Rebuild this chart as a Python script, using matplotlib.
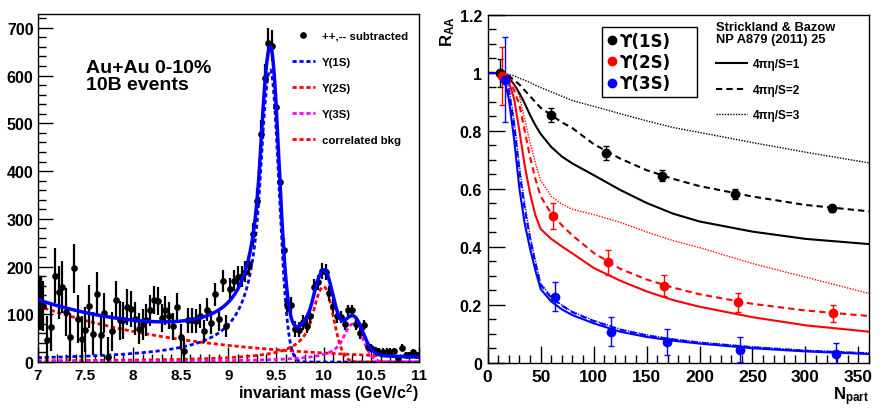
import numpy as np
import matplotlib
matplotlib.use("Agg")
import matplotlib.pyplot as plt
from matplotlib.ticker import MultipleLocator, FuncFormatter
from matplotlib.lines import Line2D
from matplotlib.patches import Rectangle

plt.rcParams['font.family'] = ['Liberation Sans', 'DejaVu Sans']
plt.rcParams['font.weight'] = 'bold'
plt.rcParams['mathtext.fontset'] = 'custom'
plt.rcParams['mathtext.rm'] = 'Liberation Sans:bold'
plt.rcParams['mathtext.it'] = 'Liberation Sans:bold'
plt.rcParams['mathtext.bf'] = 'Liberation Sans:bold'
plt.rcParams['mathtext.default'] = 'rm'

# ---------------- painel esquerdo: espectro de massa invariante ----------------
bin_lo, bin_hi, n_bins = 7.0, 11.0, 100
contagens = [
    125, 117, 46, 74, 181, 146, 157, 104, 53, 196,
    90, 48, 68, 117, 59, 143, 57, 102, 10, 64,
    130, 87, 87, 115, 111, 91, 70, 79, 88, 108,
    130, 128, 92, 108, 97, 75, 116, 53, 24, 87,
    87, 86, 96, 64, 110, 82, 142, 90, 169, 75,
    153, 170, 179, 180, 189, 205, 268, 338, 478, 595,
    668, 663, 534, 377, 235, 122, 119, 69, 68, 83,
    76, 96, 157, 167, 191, 188, 144, 117, 96, 94,
    80, 108, 108, 80, 60, 78, 31, 29, 25, 22,
    22, 22, 22, 23, 8, 30, 15, 15, 22, 14,
]
erros = [
    55, 52, 50, 50, 58, 55, 55, 50, 50, 52, 50, 48, 48,
    45, 45, 45, 43, 42, 42, 40, 40, 40, 38, 38, 38,
    35, 33, 33, 33, 32, 30, 30, 30, 30, 28, 28, 28, 27,
    27, 26, 26, 26, 25, 25, 25, 24, 24, 24, 23, 23,
    22, 22, 22, 22, 22, 23, 24,
    26, 28, 30, 32, 32, 30, 28, 24,
    18, 17, 16, 15, 15, 15, 15, 16,
    16, 17, 17, 16, 15, 14, 13, 12, 12, 12, 12, 11, 11,
    8, 8, 7, 7, 7, 7, 7, 7, 6, 7, 6, 6, 6, 6,
]

# parametros do ajuste: N, media, sigma esq, sigma dir, alpha, n
par_1s = [612, 9.44, 0.11, 0.09, 1.0, 1.3]
par_2s = [158, 10.00, 0.12, 0.10, 1.0, 1.2]
par_3s = [80, 10.31, 0.11, 0.10, 1.0, 1.2]
par_bkg = [118, 0.61]   # amplitude em 7 GeV, inclinacao

# ---------------- painel direito: R_AA x Npart ----------------
npart_1s = [11.6, 59.5, 111.7, 164.9, 233.8, 324.8]
raa_1s = [1.0, 0.855, 0.724, 0.646, 0.583, 0.534]
err_1s = [0.048, 0.024, 0.024, 0.020, 0.017, 0.012]
npart_2s = [13.2, 61.4, 113.9, 166.8, 236.0, 326.4]
raa_2s = [0.988, 0.508, 0.347, 0.267, 0.209, 0.171]
err_2s = [0.100, 0.045, 0.044, 0.037, 0.033, 0.028]
npart_3s = [16.3, 63.5, 116.1, 169.0, 238.2, 328.6]
raa_3s = [0.977, 0.229, 0.108, 0.071, 0.046, 0.031]
err_3s = [0.147, 0.051, 0.050, 0.045, 0.042, 0.038]

# curvas teoricas (Strickland & Bazow)
npart_teo = [0, 10, 15, 20, 25, 30, 35, 40, 45, 50, 60, 70, 80, 100, 125, 150, 175, 200, 250, 300, 360]
teo_1s_eta1 = [1, 1, 1.0, 0.985, 0.96, 0.93, 0.895, 0.855, 0.82, 0.79, 0.745, 0.712, 0.688, 0.648, 0.597, 0.552, 0.515, 0.488, 0.453, 0.428, 0.41]
teo_1s_eta2 = [1, 1, 1.0, 0.99, 0.975, 0.96, 0.94, 0.92, 0.90, 0.88, 0.855, 0.83, 0.81, 0.755, 0.705, 0.665, 0.635, 0.61, 0.574, 0.545, 0.523]
teo_1s_eta3 = [1, 1, 1.0, 0.995, 0.99, 0.982, 0.975, 0.967, 0.958, 0.95, 0.935, 0.92, 0.905, 0.885, 0.86, 0.835, 0.812, 0.795, 0.76, 0.727, 0.69]
teo_2s_eta1 = [1, 1, 0.995, 0.97, 0.91, 0.80, 0.68, 0.585, 0.51, 0.462, 0.428, 0.402, 0.378, 0.328, 0.284, 0.247, 0.217, 0.194, 0.158, 0.13, 0.108]
teo_2s_eta2 = [1, 1, 0.995, 0.975, 0.94, 0.89, 0.80, 0.71, 0.635, 0.575, 0.515, 0.475, 0.44, 0.38, 0.325, 0.288, 0.26, 0.237, 0.204, 0.181, 0.162]
teo_2s_eta3 = [1, 1, 1.0, 0.985, 0.96, 0.92, 0.84, 0.76, 0.69, 0.63, 0.575, 0.548, 0.53, 0.512, 0.485, 0.452, 0.422, 0.398, 0.343, 0.296, 0.24]
teo_3s_eta1 = [1, 1, 0.99, 0.91, 0.77, 0.60, 0.48, 0.395, 0.32, 0.255, 0.212, 0.185, 0.165, 0.137, 0.108, 0.09, 0.077, 0.067, 0.051, 0.04, 0.031]
teo_3s_eta2 = [1, 1, 0.995, 0.94, 0.82, 0.66, 0.53, 0.43, 0.345, 0.27, 0.225, 0.198, 0.175, 0.145, 0.115, 0.095, 0.081, 0.07, 0.054, 0.042, 0.033]
teo_3s_eta3 = [1, 1, 0.995, 0.95, 0.84, 0.68, 0.55, 0.44, 0.355, 0.275, 0.228, 0.20, 0.177, 0.147, 0.117, 0.097, 0.083, 0.072, 0.056, 0.044, 0.035]


def crystal_ball(x, N, mu, sl, sr, alpha, n):
    t = np.where(x < mu, (x - mu) / sl, (x - mu) / sr)
    A = (n / alpha) ** n * np.exp(-alpha ** 2 / 2)
    B = n / alpha - alpha
    cauda = A * np.clip(B - t, 1e-6, None) ** (-n)
    return N * np.where(t < -alpha, cauda, np.exp(-t ** 2 / 2))


def fundo(x, amp, k):
    return amp * np.exp(-k * (x - bin_lo))


def estilo_root(ax, maj_len=11, min_len=6):
    ax.tick_params(which='both', direction='in', top=False, right=False,
                   width=1, labelsize=11)
    ax.tick_params(which='major', length=maj_len, pad=4)
    ax.tick_params(which='minor', length=min_len)
    for s in ax.spines.values():
        s.set_linewidth(1)


fig = plt.figure(figsize=(8.93, 4.10), dpi=100)

# ---- painel esquerdo
ax1 = fig.add_axes([0.0422, 0.1146, 0.4270, 0.8488])
largura = (bin_hi - bin_lo) / n_bins
centros = bin_lo + largura * (np.arange(n_bins) + 0.5)
xx = np.linspace(bin_lo, bin_hi, 1201)
y1 = crystal_ball(xx, *par_1s)
y2 = crystal_ball(xx, *par_2s)
y3 = crystal_ball(xx, *par_3s)
yb = fundo(xx, *par_bkg)

pontilhado = (0, (1.5, 1.0))
ax1.plot(xx, yb, color='red', lw=2, ls=pontilhado, zorder=2)
ax1.plot(xx, y1, color='blue', lw=2, ls=pontilhado, zorder=2)
ax1.plot(xx, y2, color='red', lw=2, ls=pontilhado, zorder=2)
ax1.plot(xx, y3, color='magenta', lw=2, ls=pontilhado, zorder=2)
ax1.errorbar(centros, contagens, yerr=erros, fmt='o', color='black', ms=3.8,
             elinewidth=1.6, capsize=0, zorder=3)
ax1.add_patch(Rectangle((centros[0] - largura / 2, contagens[0] - erros[0]), largura,
                        2 * erros[0], fill=False, ec='black', lw=1, zorder=3))
ax1.plot(xx, y1 + y2 + y3 + yb, color='blue', lw=2.5, zorder=4)

ax1.set_xlim(bin_lo, bin_hi)
ax1.set_ylim(0, 729)
ax1.xaxis.set_major_locator(MultipleLocator(0.5))
ax1.xaxis.set_minor_locator(MultipleLocator(0.1))
ax1.yaxis.set_major_locator(MultipleLocator(100))
ax1.yaxis.set_minor_locator(MultipleLocator(20))
ax1.xaxis.set_major_formatter(FuncFormatter(lambda v, p: '%g' % v))
estilo_root(ax1)
ax1.tick_params(axis='y', pad=3, labelsize=11.5)
ax1.text(1.0, -0.088, r'invariant mass (GeV/c$^{2}$)', transform=ax1.transAxes,
         ha='right', va='center', fontsize=11.5)
ax1.text(0.128, 0.822, 'Au+Au 0-10%\n10B events', transform=ax1.transAxes,
         ha='left', va='center', fontsize=14, linespacing=1.05)

alca = [Line2D([], [], ls='none', marker='o', color='black', ms=3.8),
        Line2D([], [], color='blue', lw=2, ls=pontilhado),
        Line2D([], [], color='red', lw=2, ls=pontilhado),
        Line2D([], [], color='magenta', lw=2, ls=pontilhado),
        Line2D([], [], color='red', lw=2, ls=pontilhado)]
rotulos = ['++,-- subtracted', 'Υ(1S)', 'Υ(2S)', 'Υ(3S)', 'correlated bkg']
ax1.legend(alca, rotulos, loc='upper left', bbox_to_anchor=(0.667, 0.952),
           frameon=False, fontsize=8.2, borderpad=0, borderaxespad=0,
           handlelength=2.0, handletextpad=0.65, labelspacing=1.42)

# ---- painel direito
ax2 = fig.add_axes([0.5461, 0.1122, 0.4270, 0.8488])
tracejado = (0, (3, 2))
fino = (0, (1, 1))
for cor, t1, t2, t3 in [('black', teo_1s_eta1, teo_1s_eta2, teo_1s_eta3),
                        ('red', teo_2s_eta1, teo_2s_eta2, teo_2s_eta3),
                        ('blue', teo_3s_eta1, teo_3s_eta2, teo_3s_eta3)]:
    ax2.plot(npart_teo, t1, color=cor, lw=1.5, ls='-', zorder=2)
    ax2.plot(npart_teo, t2, color=cor, lw=1.5, ls=tracejado, zorder=2)
    ax2.plot(npart_teo, t3, color=cor, lw=1.0, ls=fino, zorder=2)

for cor, nx, ry, ey in [('black', npart_1s, raa_1s, err_1s),
                        ('red', npart_2s, raa_2s, err_2s),
                        ('blue', npart_3s, raa_3s, err_3s)]:
    ax2.errorbar(nx, ry, yerr=ey, fmt='o', color=cor, ms=6, elinewidth=1,
                 capsize=2.5, capthick=1, zorder=3)

ax2.set_xlim(0, 360)
ax2.set_ylim(0, 1.2)
ax2.xaxis.set_major_locator(MultipleLocator(50))
ax2.xaxis.set_minor_locator(MultipleLocator(10))
ax2.yaxis.set_major_locator(MultipleLocator(0.2))
ax2.yaxis.set_minor_locator(MultipleLocator(0.05))
ax2.yaxis.set_major_formatter(FuncFormatter(lambda v, p: '%g' % round(v, 2)))
estilo_root(ax2, maj_len=12, min_len=6)
ax2.tick_params(axis='y', labelsize=11.5)
ax2.tick_params(axis='x', labelsize=12.5)
ax2.text(1.0, -0.095, r'N$_{part}$', transform=ax2.transAxes,
         ha='right', va='center', fontsize=12)
ax2.text(-0.105, 1.0, r'R$_{AA}$', transform=ax2.transAxes, rotation=90,
         ha='center', va='top', fontsize=12)

alca2 = [Line2D([], [], ls='none', marker='o', color=c, ms=6) for c in ['black', 'red', 'blue']]
leg1 = ax2.legend(alca2, ['ϒ(1S)', 'ϒ(2S)', 'ϒ(3S)'], loc='upper left',
                  bbox_to_anchor=(0.30, 0.779, 0.249, 0.187), mode='expand',
                  prop={'family': ['DejaVu Sans'], 'weight': 'bold', 'size': 12},
                  fancybox=False, edgecolor='black', framealpha=1,
                  borderpad=0.3, borderaxespad=0, handlelength=0.55,
                  handletextpad=0.2, labelspacing=0.2)
leg1.get_frame().set_linewidth(1)
ax2.add_artist(leg1)

ax2.text(0.599, 0.947, 'Strickland & Bazow\nNP A879 (2011) 25', transform=ax2.transAxes,
         ha='left', va='center', fontsize=9.3, linespacing=1.0)
alca3 = [Line2D([], [], color='black', lw=1.5, ls='-'),
         Line2D([], [], color='black', lw=1.5, ls=tracejado),
         Line2D([], [], color='black', lw=1.0, ls=fino)]
ax2.legend(alca3, ['4πη/S=1', '4πη/S=2', '4πη/S=3'], loc='upper left',
           bbox_to_anchor=(0.599, 0.875), frameon=False, fontsize=8.5,
           borderpad=0, borderaxespad=0, handlelength=2.6, handletextpad=0.5,
           labelspacing=1.13)

fig.savefig('out.png', dpi=100)
